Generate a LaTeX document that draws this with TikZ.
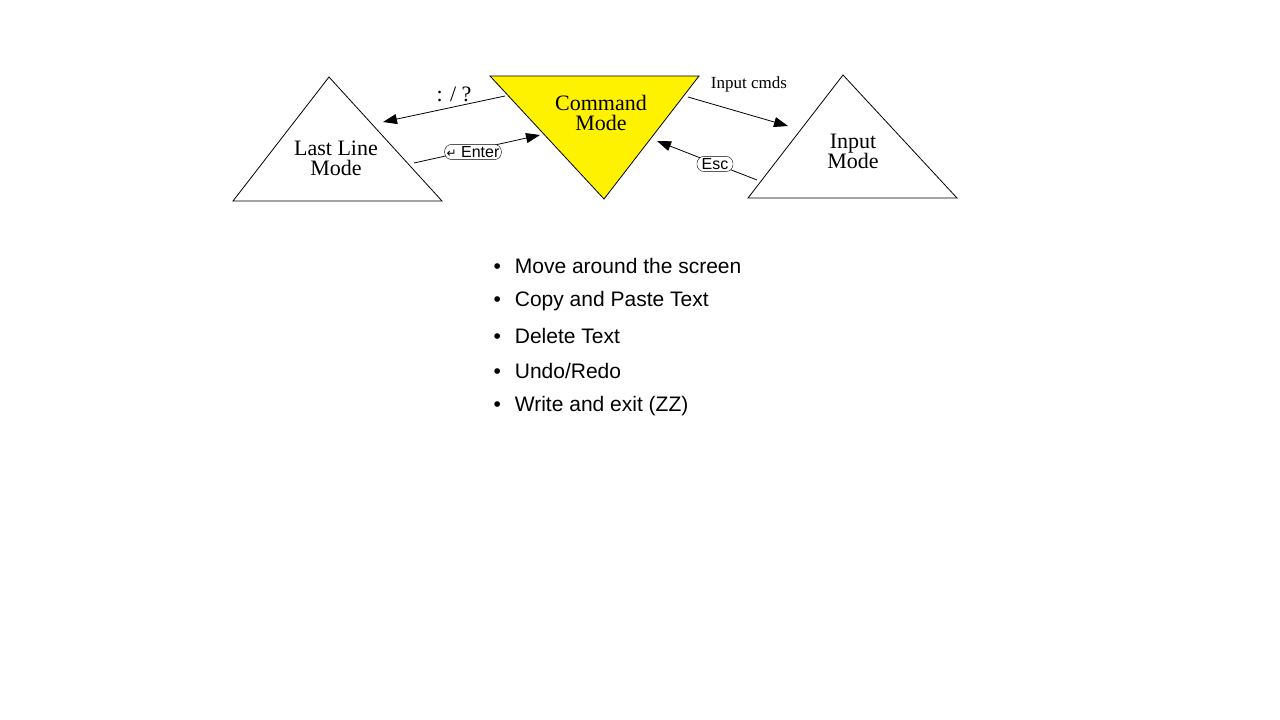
\documentclass[tikz,border=0pt]{standalone}
\usepackage{fontspec}
\setmainfont{Liberation Serif}
\newfontfamily\sansf{Liberation Sans}
\newfontfamily\symf{DejaVu Sans}
\usetikzlibrary{arrows.meta}
\begin{document}
\begin{tikzpicture}[x=1pt,y=-1pt,
  tri/.style={draw=black,line width=0.8pt,line join=miter},
  arr/.style={line width=0.8pt,-{Triangle[length=14pt,width=10pt]}},
  key/.style={draw,rounded corners=7pt,inner sep=2pt,fill=white,font=\sansf\fontsize{16}{16}\selectfont},
  lbl/.style={font=\fontsize{22}{24}\selectfont,align=center},
  bul/.style={anchor=west,font=\sansf\fontsize{21}{24}\selectfont}]
\useasboundingbox[fill=white] (0,0) rectangle (1280,720);
\draw[tri] (329,77) -- (442,201) -- (233,201) -- cycle;
\draw[tri,fill=yellow] (490,76) -- (699,76) -- (604,199) -- cycle;
\draw[tri] (843,75) -- (957,198) -- (748,198) -- cycle;
\node[lbl] (ll) at (336,158) {Last Line\\[-4pt]Mode};
\node[lbl] (cm) at (601,113) {Command\\[-4pt]Mode};
\node[lbl] (im) at (853,151) {Input\\[-4pt]Mode};
\coordinate (a1) at (505,96); \coordinate (a2) at (383,122);
\coordinate (b1) at (688,97); \coordinate (b2) at (788,126);
\coordinate (c1) at (414,163); \coordinate (c2) at (540,135);
\coordinate (d1) at (757,180); \coordinate (d2) at (657,141);
\draw[arr] (a1) -- (a2);
\draw[arr] (b1) -- (b2);
\draw[arr] (c1) -- (c2);
\draw[arr] (d1) -- (d2);
\node[fill=white,inner sep=1pt,font=\fontsize{22}{24}\selectfont] (q) at (454,94) {: / ?};
\node[font=\fontsize{17}{18}\selectfont] (ic) at (749,84) {Input cmds};
\node[key] (en) at (473,152) {{\symf\fontsize{12}{12}\selectfont ↵} Enter};
\node[key] (es) at (715,164) {\,Esc\,};
\node[bul] (i1) at (490,266) {•\hspace{14pt}Move around the screen};
\node[bul] (i2) at (490,301) {•\hspace{14pt}Copy and Paste Text};
\node[bul] (i3) at (490,336) {•\hspace{14pt}Delete Text};
\node[bul] (i4) at (490,371) {•\hspace{14pt}Undo/Redo};
\node[bul] (i5) at (490,406) {•\hspace{14pt}Write and exit (ZZ)};
\end{tikzpicture}
\end{document}
